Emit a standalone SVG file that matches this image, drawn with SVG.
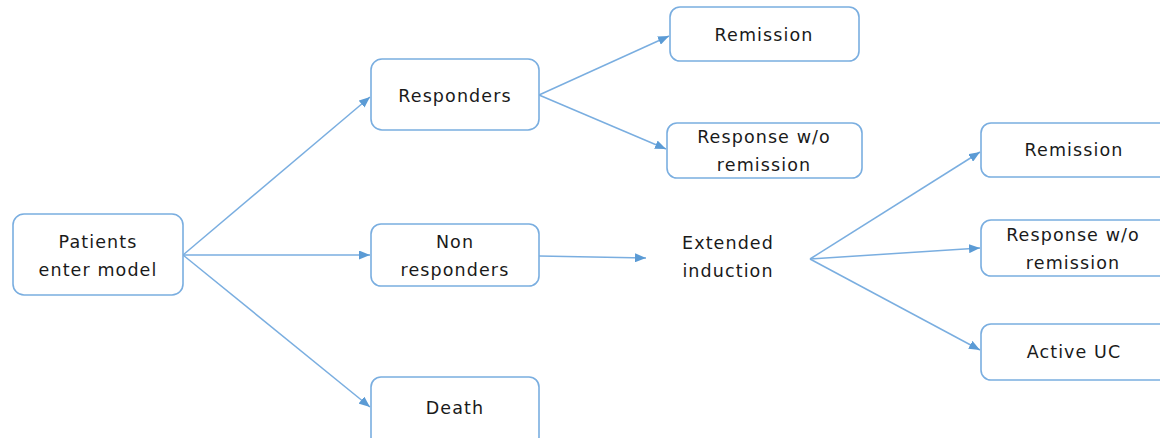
<svg xmlns="http://www.w3.org/2000/svg" width="1160" height="438" viewBox="0 0 1160 438">
<style>
.box{fill:#fff;stroke:#7aaee0;stroke-width:1.6}
.t{font-family:"DejaVu Sans",Verdana,sans-serif;font-size:17.5px;fill:#1a1a1a;text-anchor:middle;letter-spacing:1.1px}
.c{stroke:#7aaee0;stroke-width:1.5;fill:none;marker-end:url(#ah)}
</style>
<defs>
<marker id="ah" viewBox="0 0 11 9" refX="11" refY="4.5" markerWidth="11" markerHeight="9" markerUnits="userSpaceOnUse" orient="auto">
<path d="M0,0 L11,4.5 L0,9 z" fill="#5b9bd5"/>
</marker>
</defs>
<rect width="1160" height="438" fill="#fff"/>
<g id="connectors">
<line class="c" x1="183" y1="255" x2="370" y2="97"/>
<line class="c" x1="183" y1="255" x2="370" y2="255"/>
<line class="c" x1="183" y1="255" x2="370" y2="407"/>
<line class="c" x1="539" y1="95" x2="669" y2="36"/>
<line class="c" x1="539" y1="95" x2="666" y2="149"/>
<line class="c" x1="539" y1="256" x2="646" y2="258"/>
<line class="c" x1="810" y1="259" x2="980" y2="152"/>
<line class="c" x1="810" y1="259" x2="980" y2="248"/>
<line class="c" x1="810" y1="259" x2="980" y2="350"/>
</g>
<g id="patients"><rect class="box" x="13" y="214" width="170" height="81" rx="11"/><text class="t" x="98" y="248">Patients</text><text class="t" x="98" y="276">enter model</text></g>
<g id="responders"><rect class="box" x="371" y="59" width="168" height="71" rx="11"/><text class="t" x="455" y="102">Responders</text></g>
<g id="nonresponders"><rect class="box" x="371" y="224" width="168" height="62" rx="10"/><text class="t" x="455" y="248">Non</text><text class="t" x="455" y="276">responders</text></g>
<g id="death"><rect class="box" x="371" y="377" width="168" height="70" rx="10"/><text class="t" x="455" y="414">Death</text></g>
<g id="remission1"><rect class="box" x="670" y="7" width="189" height="54" rx="10"/><text class="t" x="764" y="41">Remission</text></g>
<g id="response1"><rect class="box" x="667" y="123" width="195" height="55" rx="10"/><text class="t" x="764" y="143">Response w/o</text><text class="t" x="764" y="171">remission</text></g>
<g id="extended"><text class="t" x="728" y="249">Extended</text><text class="t" x="728" y="277">induction</text></g>
<g id="remission2"><rect class="box" x="981" y="123" width="200" height="54" rx="10"/><text class="t" x="1074" y="156">Remission</text></g>
<g id="response2"><rect class="box" x="981" y="220" width="200" height="56" rx="10"/><text class="t" x="1073" y="241">Response w/o</text><text class="t" x="1073" y="269">remission</text></g>
<g id="activeuc"><rect class="box" x="981" y="324" width="200" height="56" rx="10"/><text class="t" x="1074" y="358">Active UC</text></g>
</svg>
